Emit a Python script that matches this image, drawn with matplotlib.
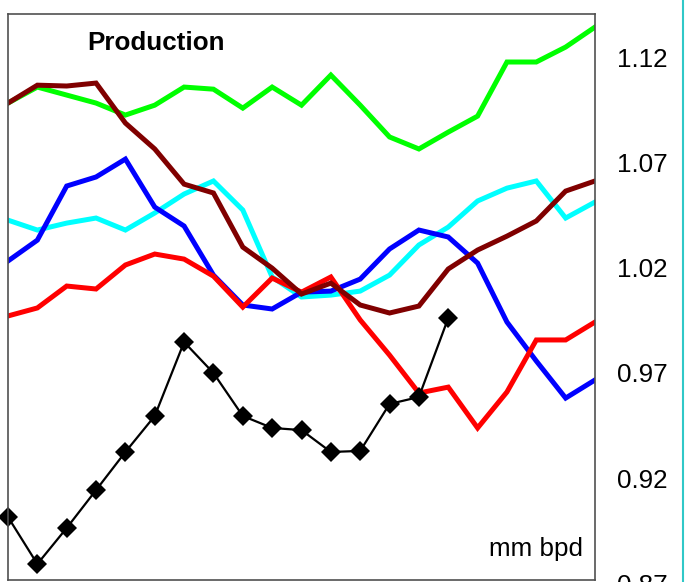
import matplotlib
matplotlib.use("Agg")
import matplotlib.pyplot as plt
from matplotlib.transforms import ScaledTranslation
from matplotlib.lines import Line2D

plt.rcParams['font.family'] = ['Liberation Sans', 'DejaVu Sans']

green = [1.0965, 1.1041, 1.1003, 1.0965, 1.0908, 1.0955, 1.1041, 1.1031, 1.0941, 1.1041,
         1.0955, 1.1098, 1.0955, 1.0804, 1.0747, 1.0827, 1.0903, 1.1160, 1.1160, 1.1231, 1.1326]
maroon = [1.0965, 1.1050, 1.1046, 1.1060, 1.0870, 1.0747, 1.0580, 1.0538, 1.0281, 1.0181,
          1.0058, 1.0110, 1.0006, 0.9968, 1.0001, 1.0177, 1.0267, 1.0333, 1.0405, 1.0547, 1.0595]
blue = [1.0215, 1.0314, 1.0571, 1.0614, 1.0699, 1.0471, 1.0381, 1.0148, 1.0006, 0.9987,
        1.0067, 1.0072, 1.0129, 1.0272, 1.0362, 1.0329, 1.0205, 0.9925, 0.9740, 0.9564, 0.9650]
cyan = [1.0409, 1.0362, 1.0395, 1.0419, 1.0362, 1.0443, 1.0533, 1.0595, 1.0457, 1.0139,
        1.0044, 1.0053, 1.0072, 1.0148, 1.0291, 1.0376, 1.0500, 1.0561, 1.0595, 1.0419, 1.0495]
red = [0.9954, 0.9992, 1.0096, 1.0082, 1.0196, 1.0248, 1.0224, 1.0143, 0.9996, 1.0134,
       1.0067, 1.0139, 0.9935, 0.9768, 0.9588, 0.9616, 0.9422, 0.9593, 0.9840, 0.9840, 0.9925]
black = [0.8999, 0.8776, 0.8947, 0.9127, 0.9308, 0.9479, 0.9830, 0.9683, 0.9479, 0.9422,
         0.9412, 0.9308, 0.9313, 0.9536, 0.9569, 0.9944]
yticks = [0.87, 0.92, 0.97, 1.02, 1.07, 1.12]
ytick_labels = ["0.87", "0.92", "0.97", "1.02", "1.07", "1.12"]

fig = plt.figure(figsize=(6.86, 5.82), dpi=100)
ax = fig.add_axes([8/686, 1-580/582, (595-8)/686, (580-14)/582])

for vals, col in [(green, '#00FF00'), (cyan, '#00FFFF'), (blue, '#0000FF'),
                  (red, '#FF0000'), (maroon, '#800000')]:
    ax.plot(range(len(vals)), vals, color=col, lw=3.6, solid_joinstyle='miter', clip_on=True)
ax.plot(range(len(black)), black, color='black', lw=1.6, marker='D', markersize=10,
        markeredgewidth=0, clip_on=False)

ax.set_xlim(0, 20)
ax.set_ylim(0.87, 1.1388)
ax.set_xticks([])
ax.yaxis.tick_right()
ax.set_yticks(yticks)
ax.set_yticklabels(ytick_labels)
ax.tick_params(axis='y', length=0, pad=16, labelsize=18.7)
off = ScaledTranslation(0, -3.5/100, fig.dpi_scale_trans)
for lab in ax.get_yticklabels():
    lab.set_transform(lab.get_transform() + off)
for s in ax.spines.values():
    s.set_color('#505050')
    s.set_linewidth(1.2)

fig.text(87/686, 1-43/582, "Production", fontsize=18.7, fontweight='bold',
         ha='left', va='center')
fig.text(583/686, 1-556/582, "mm bpd", fontsize=18.7, ha='right', va='baseline')

fig.add_artist(Line2D([683/686, 683/686], [0, 1], transform=fig.transFigure,
                      color='#30C8C8', lw=1.5))

fig.savefig("out.png", dpi=100)
